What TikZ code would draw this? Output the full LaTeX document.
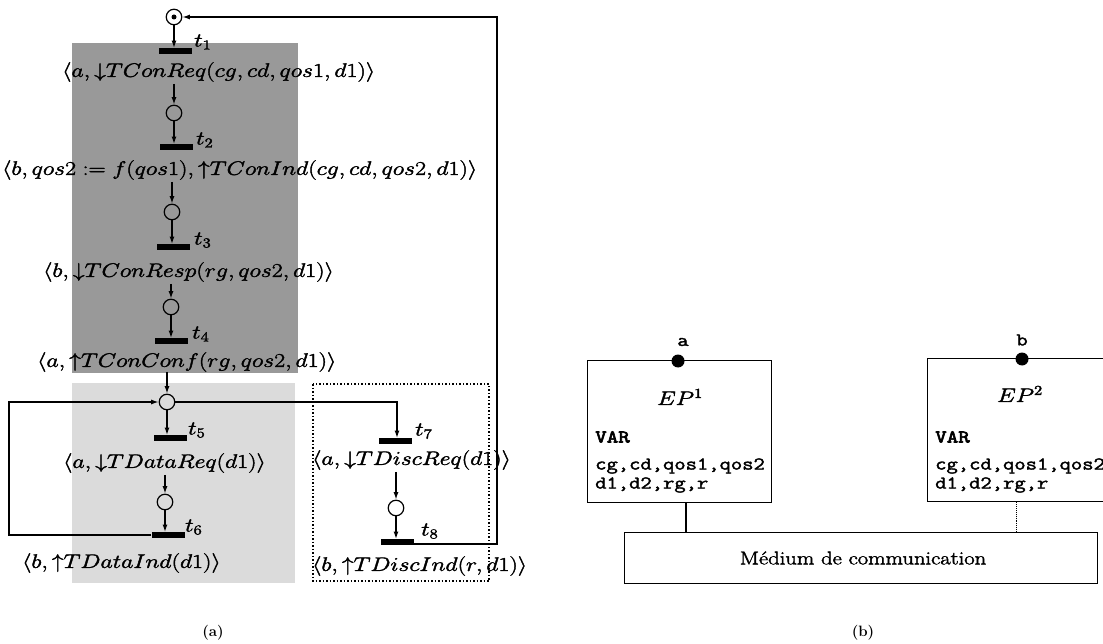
\RequirePackage{fix-cm}
\documentclass[tikz,border=0pt]{standalone}
\usepackage{fontspec}
\newfontfamily\ttbold{lmmono10-regular.otf}[FakeBold=3]
\usepackage{graphicx}
\usetikzlibrary{arrows.meta}
\newcommand{\hs}[1]{\special{pdf:literal direct 2 Tr 0.35 w}\scalebox{1.22}[1]{#1}\special{pdf:literal direct 0 Tr}}
\begin{document}
\begin{tikzpicture}[x=1pt,y=-1pt,
  place/.style={circle,draw,line width=1.2pt,minimum size=15.5pt,inner sep=0pt},
  trans/.style={rectangle,fill=black,minimum width=33pt,minimum height=5.5pt,inner sep=0pt},
  lab/.style={inner sep=0pt,anchor=west,font=\fontsize{19.5}{23}\selectfont},
  tlab/.style={inner sep=0pt,anchor=west,font=\fontsize{19.5}{23}\selectfont},
  arc/.style={line width=1.3pt,-{Latex[length=7.5pt,width=5pt]}},
  wire/.style={line width=1.4pt},
  ttl/.style={inner sep=0pt,anchor=west,font=\fontsize{18}{20}\selectfont\ttfamily},
  boxs/.style={draw,line width=1.4pt,inner sep=0pt,anchor=north west},
  port/.style={circle,fill=black,minimum size=13pt,inner sep=0pt},
  captxt/.style={inner sep=0pt,font=\fontsize{15}{17}\selectfont\bfseries}
]
\useasboundingbox (0,0) rectangle (1103,644);
\fill[white] (0,0) rectangle (1103,644);
% shaded zones
\fill[black!40] (72,43) rectangle (298,373);
\fill[black!14] (72,383) rectangle (295,583);
\draw[dotted,line width=1.5pt] (313,384) rectangle (489,581);

% places
\node[place] (P1) at (174,17) {};
\node[circle,fill=black,minimum size=5pt,inner sep=0pt] (tok) at (P1) {};
\node[place] (P2) at (174,113) {};
\node[place] (P3) at (172,212) {};
\node[place] (P4) at (171,307) {};
\node[place] (P5) at (167,402) {};
\node[place] (P6) at (165,502) {};
\node[place] (P7) at (396,508) {};

% transitions
\node[trans] (T1) at (175,51) {};
\node[trans] (T2) at (176,147) {};
\node[trans] (T3) at (173,247) {};
\node[trans] (T4) at (171,341) {};
\node[trans] (T5) at (170,438) {};
\node[trans] (T6) at (168,535) {};
\node[trans] (T7) at (395,441) {};
\node[trans] (T8) at (397,542) {};

\node[tlab] (t1) at (194,42) {\hs{$t_1$}};
\node[tlab] (t2) at (196,140) {\hs{$t_2$}};
\node[tlab] (t3) at (194,240) {\hs{$t_3$}};
\node[tlab] (t4) at (192,334) {\hs{$t_4$}};
\node[tlab] (t5) at (188,430) {\hs{$t_5$}};
\node[tlab] (t6) at (185,527) {\hs{$t_6$}};
\node[tlab] (t7) at (415,431) {\hs{$t_7$}};
\node[tlab] (t8) at (421,531) {\hs{$t_8$}};

% labels
\node[lab] (L1) at (62,72) {\hs{$\langle a,\mathord{\downarrow} TConReq(cg,cd,qos1,d1)\rangle$}};
\node[lab] (L2) at (2,170) {\hs{$\langle b,qos2:=f(qos1),\mathord{\uparrow} TConInd(cg,cd,qos2,d1)\rangle$}};
\node[lab] (L3) at (43,272) {\hs{$\langle b,\mathord{\downarrow} TConResp(rg,qos2,d1)\rangle$}};
\node[lab] (L4) at (37,362) {\hs{$\langle a,\mathord{\uparrow} TConConf(rg,qos2,d1)\rangle$}};
\node[lab] (L5) at (63,463) {\hs{$\langle a,\mathord{\downarrow} TDataReq(d1)\rangle$}};
\node[lab] (L6) at (22,563) {\hs{$\langle b,\mathord{\uparrow} TDataInd(d1)\rangle$}};
\node[lab] (L7) at (312,460) {\hs{$\langle a,\mathord{\downarrow} TDiscReq(d1)\rangle$}};
\node[lab] (L8) at (312,566) {\hs{$\langle b,\mathord{\uparrow} TDiscInd(r,d1)\rangle$}};

% arcs
\draw[arc] (P1) -- (T1.north -| P1);
\draw[arc] (L1.south -| P2) ++(0,2) -- (P2.north);
\draw[arc] (P2) -- (T2.north -| P2);
\draw[arc] (L2.south -| P3) ++(0,2) -- (P3.north);
\draw[arc] (P3) -- (T3.north -| P3);
\draw[arc] (L3.south -| P4) ++(0,2) -- (P4.north);
\draw[arc] (P4) -- (T4.north -| P4);
\draw[arc] (L4.south -| P5) -- (P5.north);
\draw[arc] (P5) -- (T5.north -| P5);
\draw[arc] (L5.south -| P6) ++(0,2) -- (P6.north);
\draw[arc] (P6) -- (T6.north -| P6);
\draw[arc] (L7.south -| P7) ++(0,2) -- (P7.north);
\draw[arc] (P7) -- (T8.north -| P7);

\coordinate (loopL) at (9,470);
\coordinate (retR) at (497,300);
\coordinate (branch) at (397,420);
\draw[arc] (T6.west) -| (loopL) |- (P5.west);
\draw[arc] (P5.east) -| (T7.north -| branch);
\draw[arc] (T8.south east) ++(0,-1) -| (retR) |- (P1.east);

\node[captxt] (capa) at (213,633) {(a)};

% part (b)
\node[boxs,minimum width=184pt,minimum height=142pt] (B1) at (587,360) {};
\node[boxs,minimum width=190pt,minimum height=143pt] (B2) at (927,358) {};
\node[port] (pa) at (678,361) {};
\node[port] (pb) at (1022,359) {};
\node[inner sep=0pt,font=\fontsize{18}{20}\selectfont\ttfamily] (la) at (683,342) {\hs{a}};
\node[inner sep=0pt,font=\fontsize{18}{20}\selectfont\ttfamily] (lb) at (1022,340) {\hs{b}};
\node[inner sep=0pt,font=\fontsize{19.5}{23}\selectfont] (ep1) at (680,397) {\hs{$EP^1$}};
\node[inner sep=0pt,font=\fontsize{19.5}{23}\selectfont] (ep2) at (1020,394) {\hs{$EP^2$}};
\node[ttl,font=\fontsize{18}{20}\selectfont\ttbold] (v1) at (595,437) {\hs{VAR}};
\node[ttl] (v1a) at (595,466) {\hs{cg,cd,qos1,qos2}};
\node[ttl] (v1b) at (595,485) {\hs{d1,d2,rg,r}};
\node[ttl,font=\fontsize{18}{20}\selectfont\ttbold] (v2) at (935,437) {\hs{VAR}};
\node[ttl] (v2a) at (935,466) {\hs{cg,cd,qos1,qos2}};
\node[ttl] (v2b) at (935,485) {\hs{d1,d2,rg,r}};

\node[boxs,minimum width=473pt,minimum height=51pt] (med) at (624,532) {};
\node[inner sep=0pt,font=\fontsize{18.5}{22}\selectfont] (medt) at (863,558) {\hs{Médium de communication}};
\coordinate (c1) at (686,0);
\coordinate (c2) at (1016,0);
\draw[wire] (B1.south -| c1) -- (med.north -| c1);
\draw[line width=0.9pt,densely dotted] (B2.south -| c2) -- (med.north -| c2);

\node[captxt] (capb) at (863,633) {(b)};
\end{tikzpicture}
\end{document}
